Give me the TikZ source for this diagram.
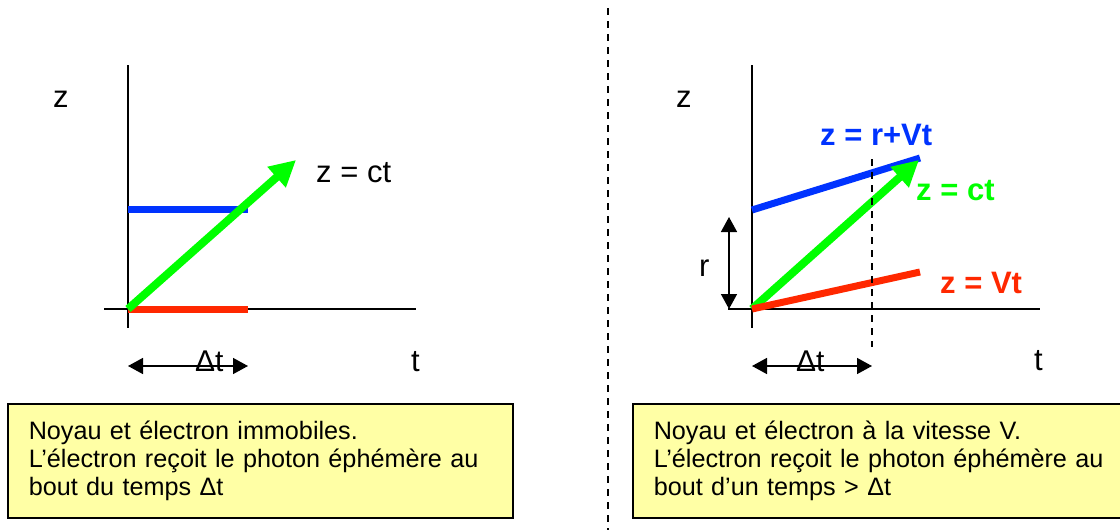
\documentclass[tikz,border=0pt]{standalone}
\usepackage{fontspec}
\setmainfont{Liberation Sans}
\usetikzlibrary{arrows.meta}
\definecolor{cblue}{RGB}{0,51,255}
\definecolor{cred}{RGB}{255,40,0}
\definecolor{cgreen}{RGB}{0,255,0}
\definecolor{boxfill}{RGB}{255,255,165}
\begin{document}
\begin{tikzpicture}[x=1pt,y=-1pt,
  axis/.style={line width=1.5pt, black},
  band/.style={line width=7pt},
  photon/.style={line width=8pt, cgreen, -{Triangle[length=26pt,width=26pt]}},
  dimarrow/.style={line width=1.5pt, {Triangle[length=15pt,width=16pt]}-{Triangle[length=15pt,width=16pt]}},
  lbl/.style={anchor=base west, inner sep=0pt, font=\fontsize{31}{37}\selectfont},
  blbl/.style={anchor=base west, inner sep=0pt, font=\fontsize{31}{37}\selectfont\bfseries},
  dlbl/.style={anchor=base west, inner sep=0pt, font=\fontsize{30}{34}\selectfont},
  note/.style={draw=black, line width=1.5pt, fill=boxfill, anchor=north west,
    text width=463pt, minimum height=114pt, align=left, inner xsep=21pt, inner ysep=0pt,
    font=\fontsize{25.2}{28}\selectfont},
  sepline/.style={dash pattern=on 7pt off 6pt, line width=1.5pt},
  guide/.style={dash pattern=on 7pt off 6pt, line width=1.3pt}
]
\useasboundingbox (0,0) rectangle (1120,530);
\clip (0,0) rectangle (1120,530);

% divider
\coordinate (divT) at (608,8);
\coordinate (divB) at (608,530);
\draw[sepline] (divT) -- (divB);

% ---------- left diagram ----------
\coordinate (O1) at (128,309);
\coordinate (zT1) at (128,65);
\coordinate (zB1) at (128,328);
\coordinate (tL1) at (104,309);
\coordinate (tR1) at (416,309);
\draw[axis] (zT1) -- (zB1);
\draw[axis] (tL1) -- (tR1);
\coordinate (R1) at (248,309);
\coordinate (B1a) at (128,209);
\coordinate (B1b) at (248,209);
\coordinate (G1) at (296,160);
\draw[band, cred] (O1) -- (R1);
\draw[band, cblue] (B1a) -- (B1b);
\draw[photon] (O1) -- (G1);
\node[lbl] (z1) at (53,107) {z};
\node[lbl] (t1) at (411,371) {t};
\node[lbl] (ct1) at (316,182) {z = ct};
\coordinate (D1a) at (128,366);
\coordinate (D1b) at (248,366);
\draw[dimarrow] (D1a) -- (D1b);
\node[dlbl] (dt1) at (195,371) {Δt};

\node[note] (n1) at (7,403) {Noyau et électron immobiles.\\L’électron reçoit le photon éphémère au\\bout du temps Δt};

% ---------- right diagram ----------
\coordinate (O2) at (752,309);
\coordinate (zT2) at (752,65);
\coordinate (zB2) at (752,328);
\coordinate (tL2) at (728,309);
\coordinate (tR2) at (1040,309);
\draw[axis] (zT2) -- (zB2);
\draw[axis] (tL2) -- (tR2);
\coordinate (B2a) at (752,210);
\coordinate (B2b) at (920,158);
\coordinate (R2) at (920,272);
\coordinate (G2) at (919,160);
\draw[band, cblue] (B2a) -- (B2b);
\draw[photon] (O2) -- (G2);
\draw[band, cred] (O2) -- (R2);
\coordinate (V2a) at (872,159);
\coordinate (V2b) at (872,347);
\draw[guide] (V2a) -- (V2b);
\coordinate (rA) at (729,217);
\coordinate (rB) at (729,309);
\draw[dimarrow] (rA) -- (rB);
\node[lbl] (r2) at (699,276) {r};
\node[lbl] (z2) at (676,107) {z};
\node[lbl] (t2) at (1034,370) {t};
\node[blbl, text=cblue] (eqb) at (820,145) {z = r+Vt};
\node[blbl, text=cgreen] (eqg) at (916,200) {z = ct};
\node[blbl, text=cred] (eqr) at (940,293) {z = Vt};
\coordinate (D2a) at (752,366);
\coordinate (D2b) at (872,366);
\draw[dimarrow] (D2a) -- (D2b);
\node[dlbl] (dt2) at (796,371) {Δt};

\node[note] (n2) at (632,403) {Noyau et électron à la vitesse V.\\L’électron reçoit le photon éphémère au\\bout d’un temps > Δt};
\end{tikzpicture}
\end{document}
